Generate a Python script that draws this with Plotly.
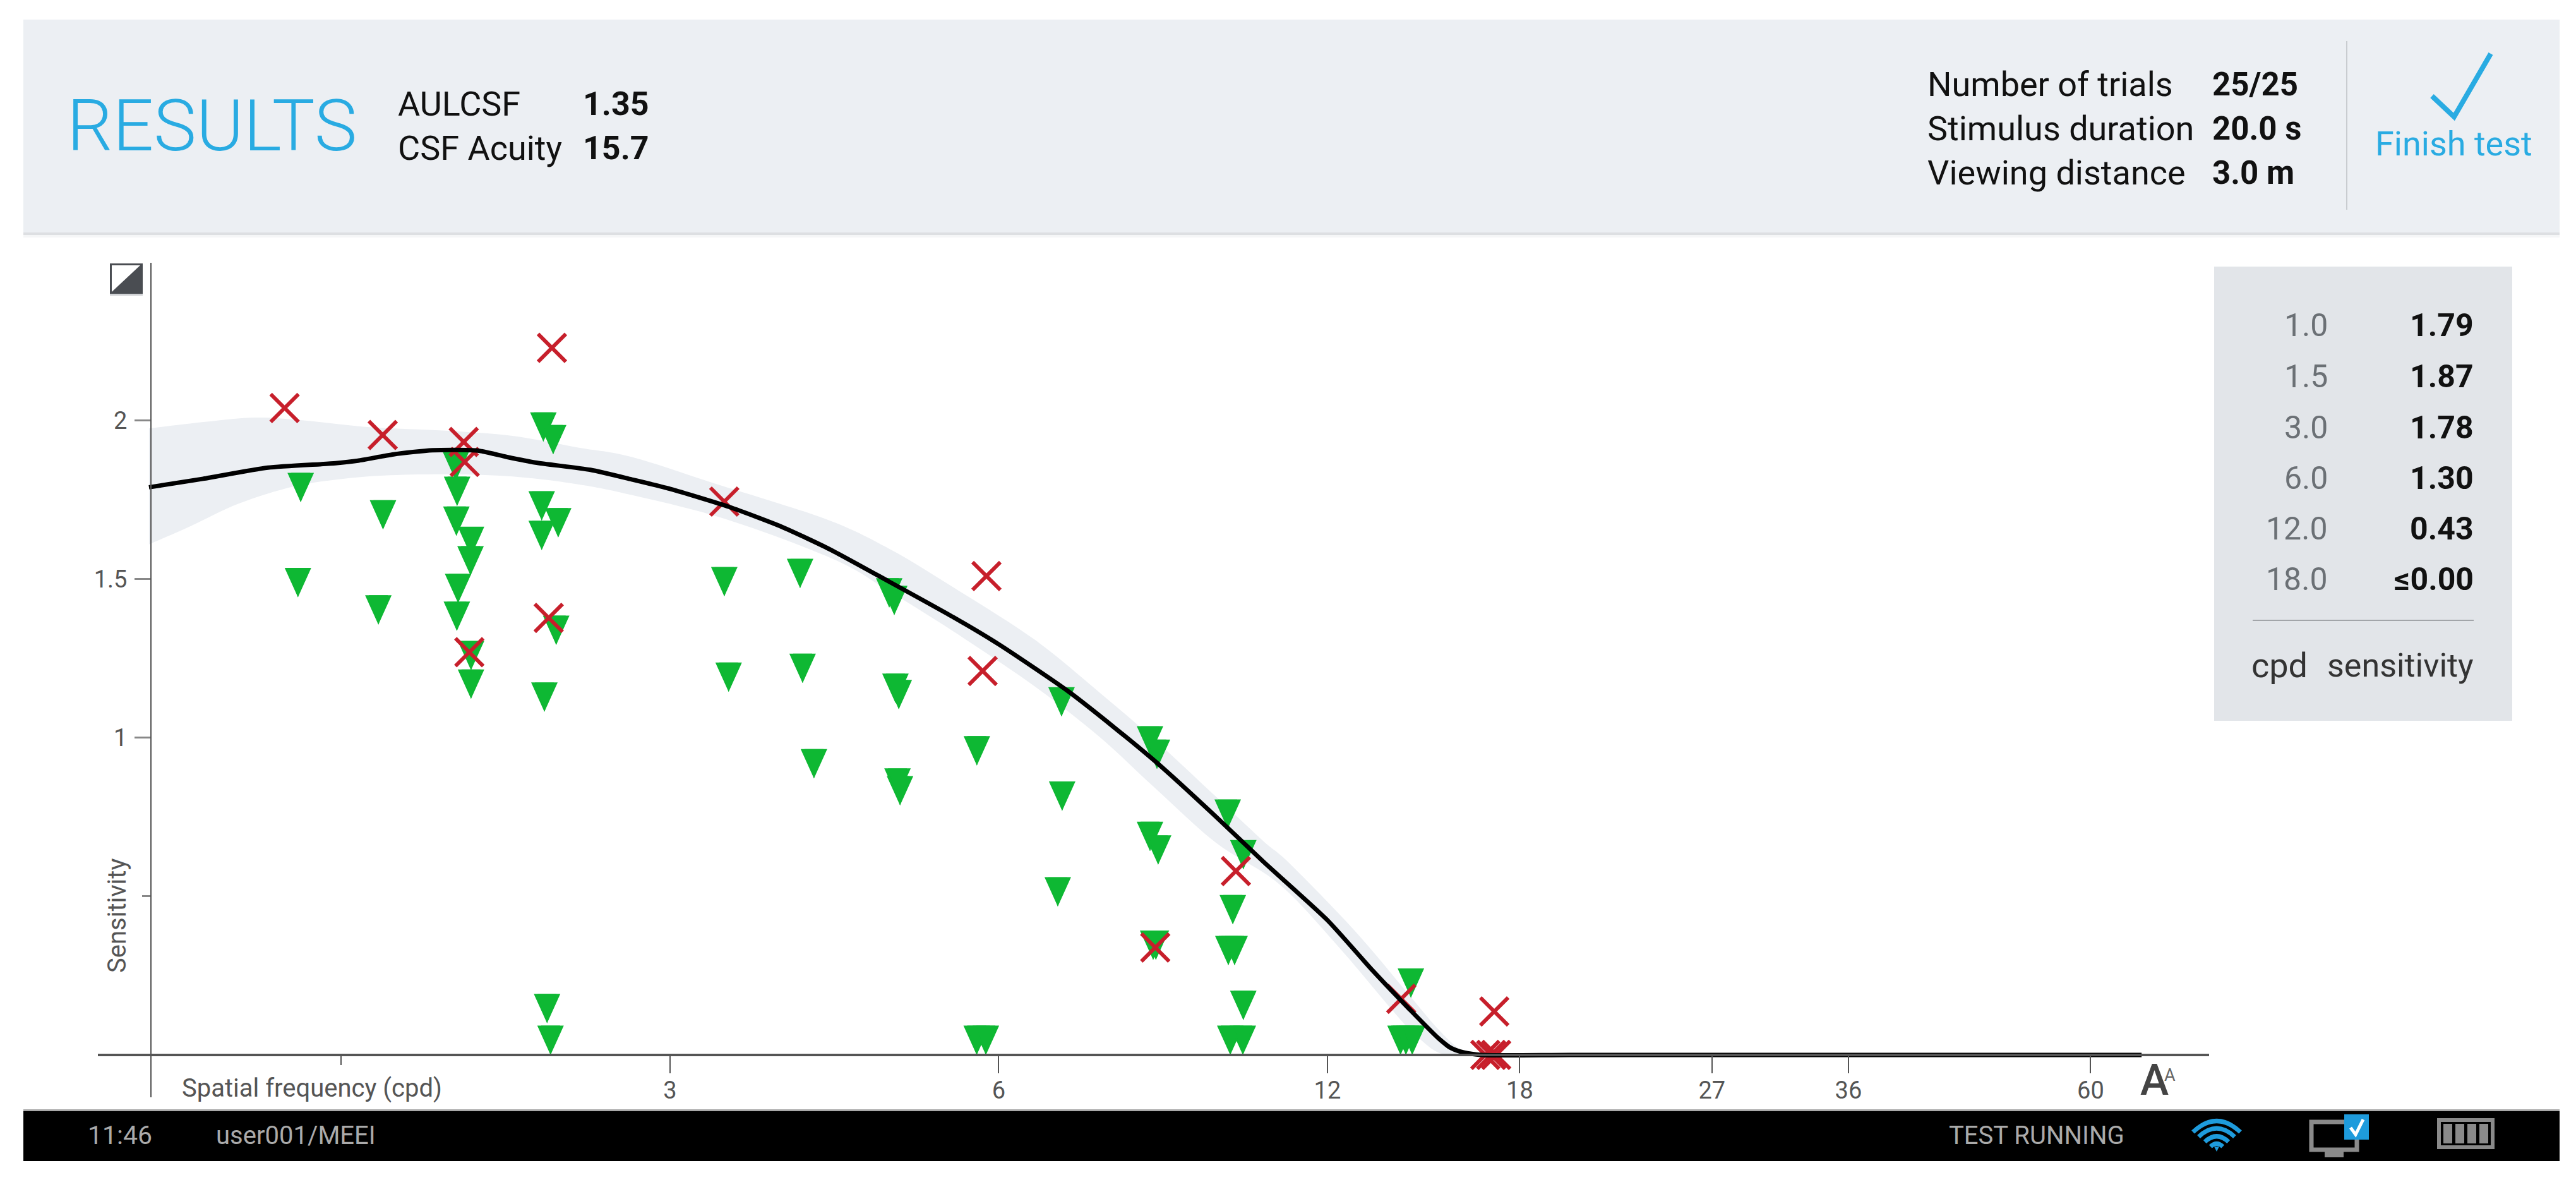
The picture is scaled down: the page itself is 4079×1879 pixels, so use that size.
import math
import plotly.graph_objects as go

# ---------- data ----------
tick_cpd = [3, 6, 12, 18, 27, 36, 60]
tick_cpd_labels = ["3", "6", "12", "18", "27", "36", "60"]
tick_sens = [1, 1.5, 2]
tick_sens_labels = ["1", "1.5", "2"]

curve_cpd = [1.0, 1.121, 1.285, 1.482, 1.554, 1.675, 1.818, 1.999, 2.125, 2.259, 2.537, 2.766, 3.0, 3.4,
             3.8, 4.2, 4.76, 5.456, 6.0, 6.926, 7.66, 8.416, 9.482, 10.48, 12.0, 13.21, 14.26,
             15.15, 15.57, 15.99, 16.6, 20, 40, 66.8]
curve_sens = [1.79, 1.817, 1.852, 1.866, 1.874, 1.894, 1.907, 1.906, 1.886, 1.868, 1.845, 1.815, 1.785, 1.728,
              1.665, 1.595, 1.493, 1.38, 1.295, 1.15, 1.032, 0.915, 0.752, 0.61, 0.425, 0.265, 0.145,
              0.054, 0.022, 0.008, 0.0, 0.0, 0.0, 0.0]

band_upper_cpd = [1.0, 1.13, 1.251, 1.376, 1.586, 1.88, 2.153, 2.467, 2.766, 3.278, 4.157, 4.763, 5.456, 6.47,
                  7.41, 8.347, 9.482, 10.48, 11.08, 12.71, 14.25, 15.15, 15.88, 16.6]
band_upper = [1.976, 1.997, 2.01, 2.002, 1.98, 1.968, 1.952, 1.916, 1.886, 1.805, 1.691, 1.596, 1.474, 1.31,
              1.145, 0.992, 0.815, 0.675, 0.604, 0.392, 0.19, 0.082, 0.018, 0.0]
band_lower_cpd = [1.0, 1.092, 1.209, 1.357, 1.493, 1.641, 1.88, 2.153, 2.467, 2.766, 3.364, 4.23, 4.763, 5.456,
                  6.47, 7.41, 8.347, 9.482, 10.83, 12.24, 13.73, 14.36, 15.15, 16.0]
band_lower = [1.61, 1.668, 1.739, 1.793, 1.815, 1.827, 1.831, 1.824, 1.8, 1.766, 1.691, 1.564, 1.462, 1.335,
              1.163, 1.005, 0.841, 0.67, 0.54, 0.347, 0.145, 0.072, 0.008, 0.0]

seen_cpd = [1.377, 1.369, 1.638, 1.622, 1.910, 1.915, 1.912, 1.972, 1.970, 1.919, 1.914, 1.972, 1.972,
            2.297, 2.345, 2.289, 2.370, 2.289, 2.360, 2.302, 2.315, 2.332,
            3.364, 3.395, 3.947, 3.968, 4.064, 4.763, 4.814, 4.826, 4.860, 4.847, 4.873,
            5.730, 5.728, 5.840, 6.850, 6.859, 6.796,
            8.255, 8.377, 8.255, 8.398, 8.31, 8.358,
            9.725, 10.05, 9.83, 9.737, 9.867, 10.05, 9.777, 10.04,
            14.31, 14.0, 14.16, 14.35]
seen_sens = [1.743, 1.443, 1.657, 1.357, 1.81, 1.731, 1.637, 1.573, 1.512, 1.425, 1.337, 1.213, 1.123,
             1.934, 1.894, 1.685, 1.632, 1.592, 1.293, 1.082, 0.10, 0.0,
             1.446, 1.145, 1.472, 1.173, 0.872, 1.411, 1.387, 1.11, 1.09, 0.811, 0.787,
             0.913, 0.0, 0.0, 1.067, 0.77, 0.468,
             0.944, 0.902, 0.643, 0.60, 0.30, 0.30,
             0.713, 0.585, 0.412, 0.283, 0.283, 0.11, 0.0, 0.0,
             0.18, 0.0, 0.0, 0.0]

missed_cpd = [1.331, 1.637, 1.942, 1.946, 2.339, 2.323, 1.965, 3.364, 5.847, 5.800, 8.347, 9.894, 14.02, 17.06,
              16.74, 16.95, 17.13]
missed_sens = [2.04, 1.955, 1.933, 1.87, 2.23, 1.378, 1.27, 1.745, 1.51, 1.211, 0.339, 0.58, 0.177, 0.137,
               0.0, 0.0, 0.0]

table_cpd = ["1.0", "1.5", "3.0", "6.0", "12.0", "18.0"]
table_sens = ["1.79", "1.87", "1.78", "1.30", "0.43", "≤0.00"]
header_left_labels = ["AULCSF", "CSF Acuity"]
header_left_values = ["1.35", "15.7"]
header_right_labels = ["Number of trials", "Stimulus duration", "Viewing distance"]
header_right_values = ["25/25", "20.0 s", "3.0 m"]

# ---------- styling / layout ----------
W, H = 4079, 1879
L, R, T, B = 155, 3498, 416, 1737
BLUE = "#29ABE2"
GREEN = "#0EB833"
RED = "#C71F2B"
BAND = "#ECEFF3"
FONT = "Roboto"


def PX(x):
    return (x - L) / (R - L)


def PY(y):
    return (B - y) / (B - T)


def path_of(points, close=True):
    s = "M " + " L ".join(f"{PX(x):.5f},{PY(y):.5f}" for x, y in points)
    return s + (" Z" if close else "")


shapes = []


def rect(x0, y0, x1, y1, fill, line=None, lw=0):
    shapes.append(dict(type="rect", xref="paper", yref="paper", x0=PX(x0), x1=PX(x1), y0=PY(y0), y1=PY(y1),
                       fillcolor=fill, line=dict(color=line or fill, width=lw), layer="below"))


def poly(points, fill=None, line=None, lw=0, close=True):
    shapes.append(dict(type="path", xref="paper", yref="paper", path=path_of(points, close),
                       fillcolor=fill if fill else "rgba(0,0,0,0)",
                       line=dict(color=line or "rgba(0,0,0,0)", width=lw), layer="below"))


annotations = []


def text(x, y, s, size, color="#111111", anchor="left", weight=None, angle=0):
    f = dict(family=FONT, size=size, color=color)
    if weight:
        f["weight"] = weight
    annotations.append(dict(xref="paper", yref="paper", x=PX(x), y=PY(y), text=s, showarrow=False,
                            xanchor=anchor, yanchor="middle", font=f, textangle=angle,
                            borderpad=0, borderwidth=0))


# header
rect(37, 31, 4053, 368, BAND)
rect(37, 368, 4053, 372, "#DDDFE2")
rect(37, 372, 4053, 376, "#F5F6F7")
text(106, 199, "RESULTS", 114, BLUE, weight=300)
for lab, val, y in zip(header_left_labels, header_left_values, [164, 234]):
    text(630, y, lab, 54, "#111111")
    text(923, y, val, 52, "#111111", weight=700)
for lab, val, y in zip(header_right_labels, header_right_values, [133, 203, 273]):
    text(3052, y, lab, 54, "#111111")
    text(3503, y, val, 51, "#111111", weight=700)
rect(3715, 65, 3717, 332, "#C9CCD0")
poly([(3851, 152), (3886, 185), (3944, 85)], line=BLUE, lw=8, close=False)
text(3885, 228, "Finish test", 54, BLUE, anchor="center")

# contrast icon
rect(174, 417, 226, 465, "#4A4D52")
poly([(177, 420), (222, 420), (177, 462)], fill="#FFFFFF")
rect(174, 465, 226, 468, "#D0D2D5")

# results table
rect(3506, 422, 3978, 1141, "#E2E5E9")
for c, v, y in zip(table_cpd, table_sens, [515, 596, 677, 757, 837, 917]):
    text(3686, y, c, 50, "#6B7075", anchor="right")
    text(3917, y, v, 50, "#111111", anchor="right", weight=700)
rect(3567, 981, 3917, 983, "#A2A5A9")
text(3565, 1053, "cpd", 54, "#333333")
text(3917, 1053, "sensitivity", 52, "#333333", anchor="right")

# footer bar
rect(37, 1756, 4053, 1759, "#A8A8A8")
rect(37, 1759, 4053, 1838, "#000000")
text(139, 1797, "11:46", 41, "#AAAAAA")
text(342, 1797, "user001/MEEI", 40, "#AAAAAA")
text(3086, 1797, "TEST RUNNING", 40, "#AAAAAA")

# wifi icon
cx, cy = 3510, 1823
for r in (13, 25, 38, 50):
    shapes.append(dict(type="path", xref="paper", yref="paper",
                       path=(f"M {PX(cx - r * 0.75):.5f},{PY(cy - r * 0.62):.5f} "
                             f"Q {PX(cx):.5f},{PY(cy - r * 1.32):.5f} {PX(cx + r * 0.75):.5f},{PY(cy - r * 0.62):.5f}"),
                       fillcolor="rgba(0,0,0,0)", line=dict(color="#1E9BDC", width=7), layer="below"))
poly([(cx - 4, cy - 8), (cx + 4, cy - 8), (cx, cy)], fill="#1E9BDC")

# monitor icon
rect(3660, 1776, 3732, 1820, "#000000", "#8A8A8A", 7)
rect(3681, 1823, 3711, 1832, "#8A8A8A")
rect(3712, 1764, 3751, 1804, "#1E9BDC")
poly([(3722, 1785), (3730, 1796), (3742, 1772)], line="#FFFFFF", lw=5, close=False)

# battery icon
rect(3862, 1773, 3947, 1816, "#000000", "#8A8A8A", 6)
for x0 in (3869, 3888, 3907, 3926):
    rect(x0, 1779, x0 + 14, 1810, "#8A8A8A")

# axis captions
text(288, 1722, "Spatial frequency (cpd)", 40, "#555555")
text(185, 1450, "Sensitivity", 40, "#555555", anchor="center", angle=-90)
text(3389, 1710, "A", 68, "#444444", weight=500)
text(3427, 1702, "A", 27, "#666666")


# confidence band, drawn through the data axes (under the markers), smooth edge between the read values
def smooth_segments(xs, ys):
    lx = [math.log10(v) for v in xs]
    out = []
    for i in range(len(xs) - 1):
        p0 = (lx[max(i - 1, 0)], ys[max(i - 1, 0)])
        p1 = (lx[i], ys[i])
        p2 = (lx[i + 1], ys[i + 1])
        p3 = (lx[min(i + 2, len(xs) - 1)], ys[min(i + 2, len(xs) - 1)])
        c1 = (p1[0] + (p2[0] - p0[0]) / 6, p1[1] + (p2[1] - p0[1]) / 6)
        c2 = (p2[0] - (p3[0] - p1[0]) / 6, p2[1] - (p3[1] - p1[1]) / 6)
        out.append(f"C {10 ** c1[0]:.5f},{c1[1]:.4f} {10 ** c2[0]:.5f},{c2[1]:.4f} {xs[i + 1]},{ys[i + 1]}")
    return " ".join(out)


band_path = (f"M {band_upper_cpd[0]},{band_upper[0]} " + smooth_segments(band_upper_cpd, band_upper) +
             f" L {band_lower_cpd[-1]},{band_lower[-1]} " +
             smooth_segments(band_lower_cpd[::-1], band_lower[::-1]) + " Z")
shapes.append(dict(type="path", xref="x", yref="y", layer="below", path=band_path,
                   fillcolor=BAND, line=dict(width=0)))

# tall downward triangles anchored at each value through the axes
for c, s in zip(seen_cpd, seen_sens):
    shapes.append(dict(type="path", xref="x", yref="y", xsizemode="pixel", ysizemode="pixel",
                       xanchor=c, yanchor=s, path="M -21 46.5 L 21 46.5 L 0 0 Z",
                       fillcolor=GREEN, line=dict(width=0), layer="below"))

fig = go.Figure()
fig.add_trace(go.Scatter(x=seen_cpd, y=seen_sens, mode="markers", name="Seen", showlegend=False,
                         marker=dict(symbol="arrow", angle=180, size=48.8, color=GREEN, line=dict(width=0))))
fig.add_trace(go.Scatter(x=missed_cpd, y=missed_sens, mode="markers", name="Missed", showlegend=False,
                         marker=dict(symbol="x-thin", size=44, line=dict(color=RED, width=6))))
fig.add_trace(go.Scatter(x=curve_cpd, y=curve_sens, mode="lines", name="CSF", showlegend=False,
                         line=dict(color="#000000", width=7, shape="spline", smoothing=0.6)))

AX_COLOR = "#555555"
fig.update_layout(
    width=W, height=H, autosize=False,
    margin=dict(l=L, r=W - R, t=T, b=H - B, pad=0),
    paper_bgcolor="#FFFFFF", plot_bgcolor="#FFFFFF",
    shapes=shapes, annotations=annotations, showlegend=False,
    font=dict(family=FONT, color=AX_COLOR, size=38),
    xaxis=dict(type="log", range=[-0.0468, 1.8866], anchor="free", position=PY(1670),
               showgrid=False, zeroline=False, showline=True, linecolor=AX_COLOR, linewidth=4,
               tickmode="array", tickvals=tick_cpd, ticktext=tick_cpd_labels,
               ticks="outside", ticklen=27, tickwidth=2, tickcolor=AX_COLOR, ticklabelstandoff=-6,
               tickfont=dict(family=FONT, size=38, color=AX_COLOR),
               minor=dict(tickmode="array", tickvals=[1.5], ticks="outside", ticklen=14, tickwidth=2,
                          tickcolor=AX_COLOR, showgrid=False)),
    yaxis=dict(range=[-0.1335, 2.498], anchor="free", position=PX(239),
               showgrid=False, zeroline=False, showline=True, linecolor=AX_COLOR, linewidth=2,
               tickmode="array", tickvals=tick_sens, ticktext=tick_sens_labels,
               ticks="outside", ticklen=25, tickwidth=3, tickcolor="#888888", ticklabelstandoff=4,
               tickfont=dict(family=FONT, size=38, color=AX_COLOR),
               minor=dict(tickmode="array", tickvals=[0.5], ticks="outside", ticklen=13, tickwidth=3,
                          tickcolor="#888888", showgrid=False)),
)

fig.write_html("out.html", config=dict(displayModeBar=False),
               post_script="document.body.style.margin='0';document.body.style.overflow='hidden';")
